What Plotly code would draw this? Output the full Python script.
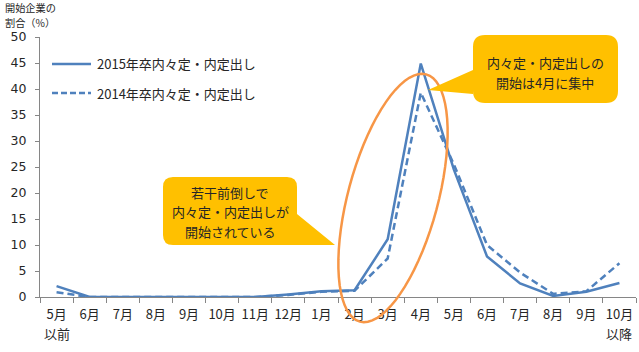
import math
import plotly.graph_objects as go

# ---- data ----
month_labels = ["5月", "6月", "7月", "8月", "9月", "10月", "11月", "12月", "1月",
                "2月", "3月", "4月", "5月", "6月", "7月", "8月", "9月", "10月"]
label_second_lines = {0: "以前", 17: "以降"}
series_2015 = [2.1, 0.0, 0.0, 0.0, 0.0, 0.1, 0.0, 0.5, 1.1, 1.3, 11.1, 44.9, 24.5, 7.8, 2.6, 0.2, 1.0, 2.7]
series_2014 = [0.9, 0.0, 0.0, 0.0, 0.0, 0.0, 0.0, 0.4, 1.0, 1.2, 7.4, 39.3, 25.5, 10.0, 4.7, 0.6, 1.1, 6.5]
name_2015 = "2015年卒内々定・内定出し"
name_2014 = "2014年卒内々定・内定出し"
y_ticks = [0, 5, 10, 15, 20, 25, 30, 35, 40, 45, 50]
title_lines = ["開始企業の", "割合（%）"]
callout1_lines = ["若干前倒しで", "内々定・内定出しが", "開始されている"]
callout2_lines = ["内々定・内定出しの", "開始は4月に集中"]

FONT = "Noto Sans CJK JP"
NUMFONT = "DejaVu Sans"
BLUE = "#4F81BD"
ORANGE = "#F79646"
GOLD = "#FFC000"
TXT = "#262626"

W, H = 639, 352
L, R, T, B = 40, 3, 37, 55
PW, PH = W - L - R, H - T - B


def px(x):
    return (x - L) / PW


def py(y):
    return (H - B - y) / PH


xs = list(range(len(month_labels)))

fig = go.Figure()
fig.add_trace(go.Scatter(x=xs, y=series_2015, mode="lines", name=name_2015,
                         line=dict(color=BLUE, width=2.5), showlegend=False))
fig.add_trace(go.Scatter(x=xs, y=series_2014, mode="lines", name=name_2014,
                         line=dict(color=BLUE, width=2.5, dash="7px,4px"), showlegend=False))

shapes = []
annotations = []


def text_at(x, y, txt, size=13, anchor="center"):
    annotations.append(dict(xref="paper", yref="paper", x=px(x), y=py(y),
                            xanchor=anchor, yanchor="middle", showarrow=False,
                            text=txt, font=dict(family=FONT, size=size, color=TXT)))


# manual legend
for yy, dash, name in [(64, "solid", name_2015), (93, "6px,3px", name_2014)]:
    shapes.append(dict(type="line", xref="paper", yref="paper",
                       x0=px(52), x1=px(91), y0=py(yy), y1=py(yy),
                       line=dict(color=BLUE, width=2.5, dash=dash)))
    text_at(95, yy, name, anchor="left")

# second lines of first/last x tick labels
for i, txt in label_second_lines.items():
    annotations.append(dict(xref="x", yref="paper", x=xs[i], y=py(333),
                            xanchor="center", yanchor="middle", showarrow=False,
                            text=txt, font=dict(family=FONT, size=13, color=TXT)))

# ellipse (pixel geometry -> paper)
cx, cy, a, b, th = 393, 198, 128, 45, math.radians(15)
pts = []
for i in range(73):
    t = 2 * math.pi * i / 72
    x = cx + b * math.cos(t) * math.cos(th) + a * math.sin(t) * math.sin(th)
    y = cy + b * math.cos(t) * math.sin(th) - a * math.sin(t) * math.cos(th)
    pts.append((px(x), py(y)))
path = "M " + " L ".join(f"{x:.5f},{y:.5f}" for x, y in pts) + " Z"
shapes.append(dict(type="path", xref="paper", yref="paper", path=path,
                   line=dict(color=ORANGE, width=2.5), fillcolor="rgba(0,0,0,0)"))


def P(x, y):
    return f"{px(x):.5f},{py(y):.5f}"


# callout 1 (pointer at bottom right)
x0, x1, y0, y1, r = 163, 297, 177, 245, 10
c1 = ("M " + P(x0 + r, y0) + " L " + P(x1 - r, y0) + " Q " + P(x1, y0) + " " + P(x1, y0 + r)
      + " L " + P(x1, 214) + " L " + P(335, 245) + " L " + P(278, y1)
      + " L " + P(x0 + r, y1) + " Q " + P(x0, y1) + " " + P(x0, y1 - r)
      + " L " + P(x0, y0 + r) + " Q " + P(x0, y0) + " " + P(x0 + r, y0) + " Z")
shapes.append(dict(type="path", xref="paper", yref="paper", path=c1,
                   line=dict(width=0), fillcolor=GOLD, layer="above"))

# callout 2 (pointer at left)
x0, x1, y0, y1, r = 473, 618, 35, 103, 12
c2 = ("M " + P(x0 + r, y0) + " L " + P(x1 - r, y0) + " Q " + P(x1, y0) + " " + P(x1, y0 + r)
      + " L " + P(x1, y1 - r) + " Q " + P(x1, y1) + " " + P(x1 - r, y1)
      + " L " + P(x0 + r, y1) + " Q " + P(x0, y1) + " " + P(x0, y1 - r)
      + " L " + P(x0, 94) + " L " + P(428, 90) + " L " + P(x0, 70)
      + " L " + P(x0, y0 + r) + " Q " + P(x0, y0) + " " + P(x0 + r, y0) + " Z")
shapes.append(dict(type="path", xref="paper", yref="paper", path=c2,
                   line=dict(width=0), fillcolor=GOLD, layer="above"))

for k, line in enumerate(callout1_lines):
    text_at(230, 192 + 19.5 * k, line)
for k, line in enumerate(callout2_lines):
    text_at(545, 63 + 19.5 * k, line)

# y-axis title
for k, line in enumerate(title_lines):
    text_at(30, 7.6 + 14.8 * k, line, size=10.2)

fig.update_layout(
    width=W, height=H,
    margin=dict(l=L, r=R, t=T, b=B, pad=0),
    paper_bgcolor="white", plot_bgcolor="white",
    font=dict(family=FONT, size=13, color=TXT),
    shapes=shapes, annotations=annotations,
    showlegend=False,
)
fig.update_xaxes(
    range=[-0.5, len(month_labels) - 0.5],
    tickmode="array", tickvals=xs, ticktext=month_labels,
    ticks="outside", ticklen=5, tickcolor="rgba(0,0,0,0)",
    minor=dict(tickmode="array", tickvals=[i - 0.5 for i in range(len(month_labels) + 1)],
               ticks="outside", ticklen=5, tickcolor="#868686", tickwidth=1),
    showline=True, linecolor="#868686", linewidth=1,
    showgrid=False, zeroline=False,
    tickfont=dict(family=FONT, size=13, color=TXT),
)
fig.update_yaxes(
    range=[0, 50], tickmode="array", tickvals=y_ticks,
    ticks="outside", ticklen=4, tickcolor="#868686",
    showline=True, linecolor="#868686", linewidth=1,
    showgrid=False, zeroline=False,
    tickfont=dict(family=NUMFONT, size=12.5, color=TXT),
    ticklabelstandoff=6,
)

fig.write_html("out.html")
